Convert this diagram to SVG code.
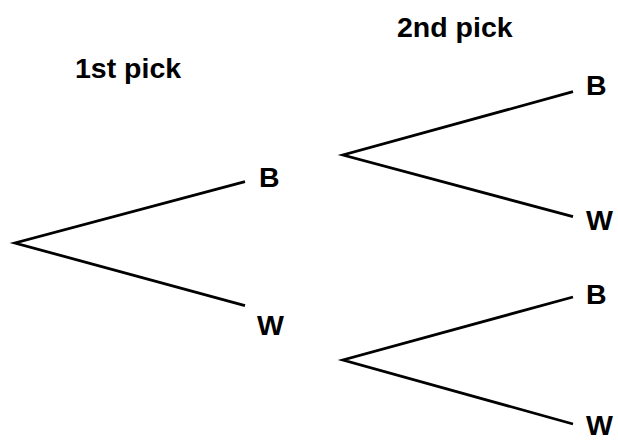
<svg xmlns="http://www.w3.org/2000/svg" width="618" height="441" viewBox="0 0 618 441">
  <style>
    .lbl { font-family: "Liberation Sans", Arial, Helvetica, sans-serif; font-weight: bold; font-size: 28.5px; fill: #000; }
    .edge { stroke: #000; stroke-width: 2.8; fill: none; stroke-linecap: butt; stroke-linejoin: miter; }
  </style>
  <rect width="618" height="441" fill="#fff"/>

  <!-- column headings -->
  <text id="head1" class="lbl" x="75" y="78">1st pick</text>
  <text id="head2" class="lbl" x="397" y="37">2nd pick</text>

  <!-- branches -->
  <g id="connectors">
    <polyline class="edge" points="245,181.7 15,243 245,305.7"/>
    <polyline class="edge" points="573,91.7 343,155 573,216.7"/>
    <polyline class="edge" points="573,297 343,360 573,424"/>
  </g>

  <!-- first pick outcomes -->
  <g id="pick1-B"><text class="lbl" x="259" y="187">B</text></g>
  <g id="pick1-W"><text class="lbl" x="257" y="335">W</text></g>

  <!-- second pick outcomes -->
  <g id="pick2-BB"><text class="lbl" x="586" y="95">B</text></g>
  <g id="pick2-BW"><text class="lbl" x="586" y="230">W</text></g>
  <g id="pick2-WB"><text class="lbl" x="586" y="304">B</text></g>
  <g id="pick2-WW"><text class="lbl" x="586" y="435">W</text></g>
</svg>
